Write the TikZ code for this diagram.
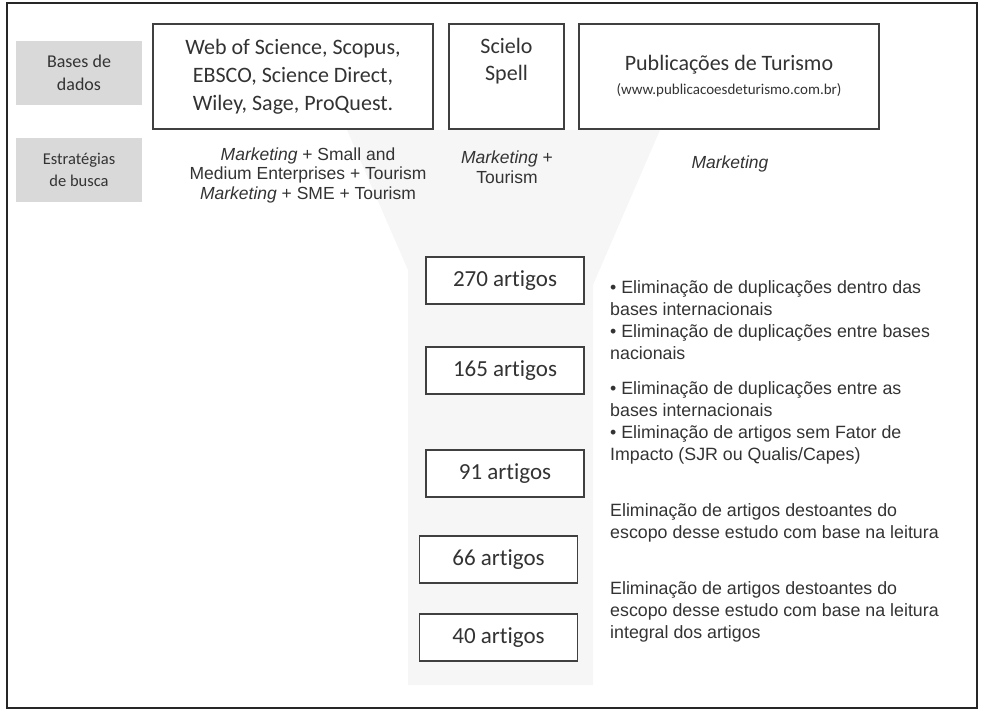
\documentclass[tikz,border=0pt]{standalone}
\usepackage{fontspec}
\setmainfont{Carlito}[Ligatures=NoCommon]
\newfontfamily\arialfont{Liberation Sans}
\definecolor{teksabu}{HTML}{333333}
\definecolor{kotakabu}{HTML}{D9D9D9}
\definecolor{corong}{HTML}{F6F6F6}
\tikzset{
  basis/.style={draw=black!75, line width=1.1pt, fill=white, text=teksabu, align=center, inner sep=0pt},
  labelabu/.style={fill=kotakabu, text=teksabu, align=center, inner sep=0pt, minimum width=126pt, minimum height=64pt},
  artigo/.style={draw=black!75, line width=1.1pt, fill=white, text=teksabu, inner sep=0pt,
    minimum width=158pt, minimum height=47pt, font=\fontsize{23}{26}\selectfont},
  busca/.style={text=teksabu, align=center, inner sep=0pt, font=\arialfont\fontsize{17.5}{19.5}\selectfont},
  ket/.style={text=teksabu, align=left, anchor=west, inner sep=0pt, font=\arialfont\fontsize{17.8}{21.8}\selectfont},
}
\begin{document}
\begin{tikzpicture}[x=1pt, y=-1pt]
  \useasboundingbox (0,0) rectangle (982,714);
  % bingkai
  \draw[black!85, line width=1.6pt] (7,3) rectangle (977,708);
  % corong latar
  \fill[corong] (347,130) -- (660,130) -- (593,285) -- (593,685) -- (408,685) -- (408,270) -- cycle;
  % label kiri
  \node[labelabu, font=\fontsize{18}{23}\selectfont] (bases) at (79,73) {Bases de\\dados};
  \node[labelabu, font=\fontsize{16.5}{22}\selectfont] (estrategias) at (79,170) {Estratégias\\de busca};
  % kotak basis data
  \node[basis, minimum width=280pt, minimum height=105pt, font=\fontsize{22}{28}\selectfont] (intl) at (293,76.5)
    {Web of Science, Scopus,\\EBSCO, Science Direct,\\Wiley, Sage, ProQuest.};
  \node[basis, minimum width=115pt, minimum height=105pt, font=\fontsize{22}{27}\selectfont] (nac) at (506.5,76.5)
    {Scielo\\Spell\\\strut};
  \node[basis, minimum width=300pt, minimum height=105pt, font=\fontsize{22}{24}\selectfont] (tur) at (729,76.5)
    {Publicações de Turismo\\{\fontsize{15}{18}\selectfont(www.publicacoesdeturismo.com.br)}};
  % estrategi pencarian
  \node[busca] (buscaintl) at (308,175) {\textit{Marketing} + Small and\\Medium Enterprises + Tourism\\\textit{Marketing} + SME + Tourism};
  \node[busca] (buscanac) at (507,167) {\textit{Marketing} +\\Tourism};
  \node[busca] (buscatur) at (730,164) {\textit{Marketing}};
  % jumlah artikel
  \foreach \n/\x/\y in {270/505/280.5, 165/505/370.5, 91/505/473.5, 66/498.5/559.5, 40/498.5/637.5}{
    \node[artigo] (a\n) at (\x,\y) {\n{} artigos};
  }
  % keterangan tiap tahap
  \node[ket] (ket1) at (610,320) {\textbullet\ Eliminação de duplicações dentro das\\bases internacionais\\\textbullet\ Eliminação de duplicações entre bases\\nacionais};
  \node[ket] (ket2) at (610,423) {\textbullet\ Eliminação de duplicações entre as\\bases internacionais\\\textbullet\ Eliminação de artigos sem Fator de\\Impacto (SJR ou Qualis/Capes)};
  \node[ket] (ket3) at (610,523) {Eliminação de artigos destoantes do\\escopo desse estudo com base na leitura};
  \node[ket] (ket4) at (610,612) {Eliminação de artigos destoantes do\\escopo desse estudo com base na leitura\\integral dos artigos};
\end{tikzpicture}
\end{document}
